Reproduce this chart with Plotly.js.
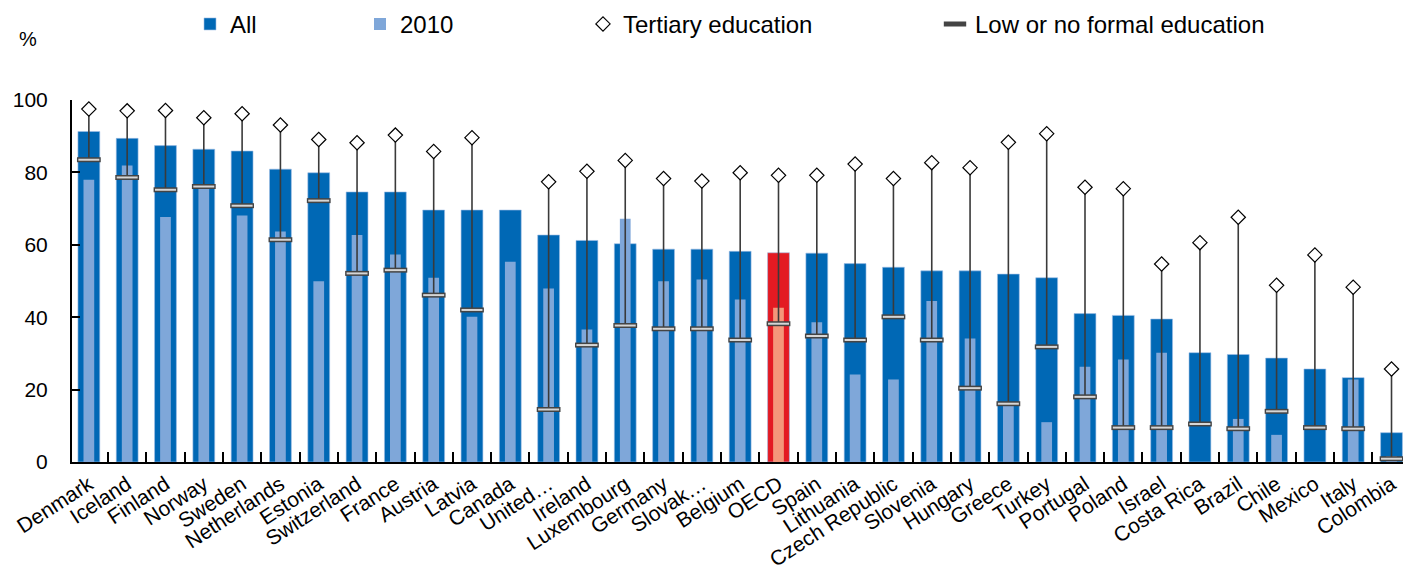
<!DOCTYPE html>
<html>
<head>
<meta charset="utf-8">
<script src="https://cdn.plot.ly/plotly-3.0.1.min.js"></script>
<style>
  html, body { margin: 0; padding: 0; background: #fff; }
  #chart { width: 1403px; height: 570px; }
</style>
</head>
<body>
<div id="chart"></div>
<script>
const countries = ["Denmark","Iceland","Finland","Norway","Sweden","Netherlands","Estonia","Switzerland","France","Austria","Latvia","Canada","United…","Ireland","Luxembourg","Germany","Slovak…","Belgium","OECD","Spain","Lithuania","Czech Republic","Slovenia","Hungary","Greece","Turkey","Portugal","Poland","Israel","Costa Rica","Brazil","Chile","Mexico","Italy","Colombia"];
const allValues = [91.3,89.4,87.4,86.4,85.9,80.9,79.9,74.6,74.6,69.6,69.6,69.6,62.7,61.2,60.3,58.8,58.8,58.2,57.8,57.7,54.8,53.8,52.8,52.8,51.9,50.9,41.0,40.5,39.5,30.2,29.7,28.7,25.7,23.3,8.1];
const values2010 = [78.0,81.9,67.7,76.0,68.1,63.7,49.9,62.7,57.3,50.9,40.1,55.3,47.9,36.6,67.2,49.9,50.4,44.9,42.6,38.6,24.2,22.8,44.5,34.1,16.0,11.0,26.3,28.3,30.2,null,11.9,7.5,null,22.8,1.6];
const tertiary = [97.5,97.0,97.1,95.1,96.2,93.1,89.1,88.2,90.3,85.8,89.6,null,77.4,80.3,83.3,78.3,77.6,79.9,79.2,79.2,82.3,78.3,82.7,81.3,88.3,90.7,75.9,75.5,54.7,60.6,67.6,48.8,57.2,48.3,25.7];
const lowEdu = [83.5,78.6,75.2,76.1,70.8,61.4,72.2,52.1,53.0,46.1,42.0,null,14.5,32.3,37.7,36.8,36.8,33.7,38.2,34.8,33.7,40.1,33.7,20.4,16.1,31.8,18.0,9.5,9.5,10.5,9.2,14.0,9.5,9.2,0.9];
const yTicks = [0,20,40,60,80,100];

const highlight = "OECD";
const allColors = countries.map(c => c === highlight ? "#E31A22" : "#0068B5");
const c2010Colors = countries.map(c => c === highlight ? "#F4977A" : "#7FA7D9");
const spanUp = tertiary.map((t, i) => (t != null && lowEdu[i] != null) ? t - lowEdu[i] : null);
const spanDown = lowEdu.map(() => 0);

const font = "'Liberation Sans', Arial, sans-serif";

const traces = [
  {
    type: "bar", name: "All", x: countries, y: allValues,
    width: 0.57,
    marker: { color: allColors, line: { color: "rgba(160,190,230,0.6)", width: 1 } },
    legend: "legend", hoverinfo: "skip"
  },
  {
    type: "bar", name: "2010", x: countries, y: values2010,
    width: 0.28,
    marker: { color: c2010Colors, line: { width: 0 } },
    legend: "legend2", hoverinfo: "skip"
  },
  {
    type: "scatter", mode: "markers", name: "Low or no formal education",
    x: countries, y: lowEdu,
    marker: { symbol: "line-ew", size: 17, color: "#444", line: { color: "#444", width: 5 } },
    error_y: { type: "data", symmetric: false, array: spanUp, arrayminus: spanDown, width: 0, thickness: 1.6, color: "#3a3a3a" },
    legend: "legend4", hoverinfo: "skip", cliponaxis: false
  },
  {
    type: "scatter", mode: "markers", name: "low-inner", showlegend: false,
    x: countries, y: lowEdu,
    marker: { symbol: "line-ew", size: 15, color: "#d6d6d6", line: { color: "#d6d6d6", width: 2 } },
    hoverinfo: "skip", cliponaxis: false
  },
  {
    type: "scatter", mode: "markers", name: "Tertiary education",
    x: countries, y: tertiary,
    marker: { symbol: "diamond", size: 11, color: "#ffffff", line: { color: "#000", width: 1.2 } },
    legend: "legend3", hoverinfo: "skip"
  }
];

const legendBase = {
  orientation: "h", yanchor: "middle", y: 1.209, xanchor: "left",
  font: { family: font, size: 24, color: "#000" },
  bgcolor: "rgba(0,0,0,0)", itemwidth: 30, traceorder: "normal"
};

const layout = {
  width: 1403, height: 570,
  margin: { l: 72, r: 0, t: 100, b: 108 },
  paper_bgcolor: "#fff", plot_bgcolor: "#fff",
  barmode: "overlay",
  font: { family: font, size: 20, color: "#000" },
  showlegend: true,
  legend: Object.assign({}, legendBase, { x: (190 - 72) / 1331 }),
  legend2: Object.assign({}, legendBase, { x: (360 - 72) / 1331 }),
  legend3: Object.assign({}, legendBase, { x: (583 - 72) / 1331 }),
  legend4: Object.assign({}, legendBase, { x: (935 - 72) / 1331 }),
  xaxis: {
    type: "category", range: [-0.44, 34.3],
    tickson: "boundaries", ticks: "inside", ticklen: 10, tickwidth: 2, tickcolor: "#000",
    showline: true, linecolor: "#000", linewidth: 2,
    tickangle: -33, tickfont: { family: font, size: 21, color: "#000" },
    showgrid: false, zeroline: false, fixedrange: true
  },
  yaxis: {
    range: [0, 100], tickvals: yTicks, ticktext: yTicks.map(String),
    ticks: "inside", ticklen: 8, tickwidth: 2, tickcolor: "#000",
    showline: true, linecolor: "#000", linewidth: 2,
    ticklabelstandoff: 18,
    tickfont: { family: font, size: 21, color: "#000" },
    showgrid: false, zeroline: false, fixedrange: true
  },
  annotations: [
    { text: "%", xref: "paper", yref: "paper", x: (28 - 72) / 1331, y: (462.5 - 40) / 362,
      xanchor: "center", yanchor: "middle", showarrow: false,
      font: { family: font, size: 20, color: "#000" } }
  ]
};

Plotly.newPlot("chart", traces, layout, { displayModeBar: false, staticPlot: true });
</script>
</body>
</html>
